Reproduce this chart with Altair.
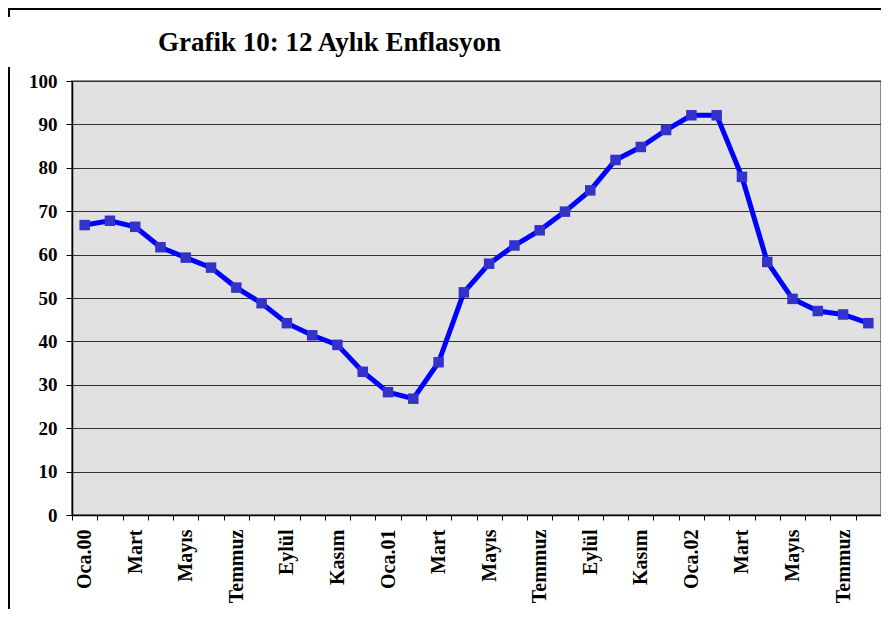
import altair as alt
import pandas as pd

baslik = "Grafik 10: 12 Aylık Enflasyon"

aylar = [
    "2000-01", "2000-02", "2000-03", "2000-04", "2000-05", "2000-06",
    "2000-07", "2000-08", "2000-09", "2000-10", "2000-11", "2000-12",
    "2001-01", "2001-02", "2001-03", "2001-04", "2001-05", "2001-06",
    "2001-07", "2001-08", "2001-09", "2001-10", "2001-11", "2001-12",
    "2002-01", "2002-02", "2002-03", "2002-04", "2002-05", "2002-06",
    "2002-07", "2002-08",
]

etiketler = [
    "Oca.00", "", "Mart", "", "Mayıs", "", "Temmuz", "", "Eylül", "", "Kasım", "",
    "Oca.01", "", "Mart", "", "Mayıs", "", "Temmuz", "", "Eylül", "", "Kasım", "",
    "Oca.02", "", "Mart", "", "Mayıs", "", "Temmuz", "",
]

enflasyon = [
    66.8, 67.8, 66.4, 61.7, 59.3, 57.0, 52.4, 48.8, 44.2, 41.4, 39.2, 33.0,
    28.3, 26.8, 35.2, 51.3, 57.9, 62.1, 65.6, 69.9, 74.8, 81.8, 84.8, 88.7,
    92.1, 92.1, 77.9, 58.3, 49.8, 47.0, 46.2, 44.2,
]

y_ticks = [0, 10, 20, 30, 40, 50, 60, 70, 80, 90, 100]

df = pd.DataFrame({"ay": aylar, "deger": enflasyon})

keys_js = "[" + ",".join("'" + k + "'" for k in aylar) + "]"
labs_js = "[" + ",".join("'" + l + "'" for l in etiketler) + "]"
label_expr = f"{labs_js}[indexof({keys_js}, datum.value)]"

FONT = "Liberation Serif"

x_enc = alt.X(
    "ay:N",
    sort=aylar,
    bandPosition=0.5,
    scale=alt.Scale(type="band", paddingInner=0, paddingOuter=0),
    axis=alt.Axis(
        title=None,
        labelExpr=label_expr,
        labelAngle=270,
        labelAlign="right",
        labelBaseline="middle",
        labelFont=FONT,
        labelFontSize=20,
        labelFontWeight="bold",
        labelColor="black",
        labelPadding=9,
        labelOverlap=False,
        tickBand="extent",
        ticks=True,
        tickSize=5,
        tickColor="black",
        tickWidth=1,
        domainColor="black",
        domainWidth=1.5,
        grid=False,
    ),
)

y_enc = alt.Y(
    "deger:Q",
    scale=alt.Scale(domain=[0, 100], nice=False, zero=True),
    axis=alt.Axis(
        title=None,
        values=y_ticks,
        labelFont=FONT,
        labelFontSize=19,
        labelFontWeight="bold",
        labelColor="black",
        labelPadding=9,
        tickSize=6,
        tickColor="black",
        tickWidth=1,
        domainColor="black",
        domainWidth=1.5,
        grid=True,
        gridColor="#333333",
        gridWidth=1.2,
    ),
)

base = alt.Chart(df).encode(x=x_enc, y=y_enc)

line = base.mark_line(color="#0000ff", strokeWidth=5)
points = base.mark_square(size=110, color="#3333cc", opacity=1, filled=True)

one = alt.Data(values=[{"k": 0}])

title_mark = alt.Chart(one).mark_text(
    text=baslik,
    font=FONT,
    fontSize=27,
    fontWeight="bold",
    align="left",
    baseline="alphabetic",
    color="black",
).encode(x=alt.value(86), y=alt.value(-30))

frame_top = alt.Chart(one).mark_rule(color="black", strokeWidth=2).encode(
    x=alt.value(-64), x2=alt.value(820), y=alt.value(-72)
)
frame_left1 = alt.Chart(one).mark_rule(color="black", strokeWidth=2).encode(
    x=alt.value(-63), y=alt.value(-73), y2=alt.value(-64)
)
frame_left2 = alt.Chart(one).mark_rule(color="black", strokeWidth=2).encode(
    x=alt.value(-63), y=alt.value(-14), y2=alt.value(540)
)

chart = alt.layer(
    line, points, title_mark, frame_top, frame_left1, frame_left2
).properties(
    width=809,
    height=434,
    autosize=alt.AutoSizeParams(type="none"),
    padding={"left": 64, "top": 73, "right": 0, "bottom": 94},
    background="white",
).configure_view(
    fill="#e1e1e1",
    stroke="#8c8c8c",
    strokeWidth=2,
)

chart.save("out.html", embed_options={"renderer": "svg", "actions": False})
